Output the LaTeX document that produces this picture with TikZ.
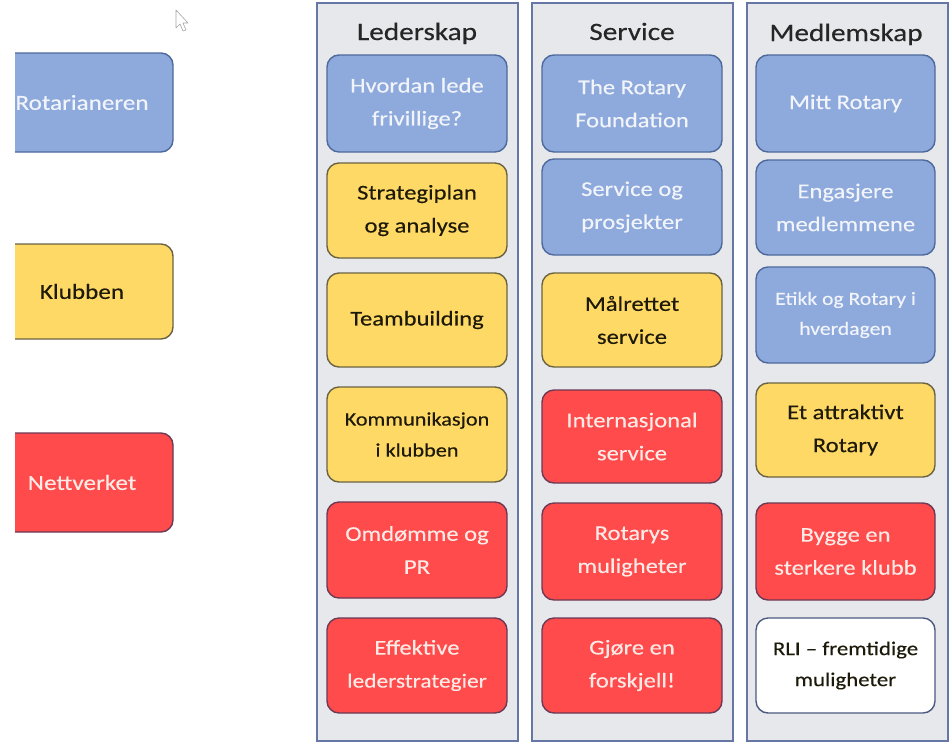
\documentclass[tikz,border=0pt]{standalone}
\usepackage{fontspec}
\setmainfont{Carlito}[FakeStretch=1.17,FakeBold=0.3]
\definecolor{bfill}{HTML}{8EA9DB}
\definecolor{bdraw}{HTML}{4E6A9C}
\definecolor{btext}{HTML}{F1F4FA}
\definecolor{yfill}{HTML}{FFD966}
\definecolor{ydraw}{HTML}{6A6343}
\definecolor{ytext}{HTML}{1E1A0A}
\definecolor{rfill}{HTML}{FF4B4B}
\definecolor{rdraw}{HTML}{6B3A55}
\definecolor{rtext}{HTML}{FBEAE6}
\definecolor{wdraw}{HTML}{4A5A80}
\definecolor{colfill}{HTML}{E7E8EC}
\definecolor{coldraw}{HTML}{6677A6}
\begin{document}
\begin{tikzpicture}[x=1pt,y=-1pt,
  cell/.style={rounded corners=12pt, line width=1.4pt, inner sep=0pt, align=center,
    minimum width=180pt, minimum height=95pt, font=\fontsize{21}{33}\selectfont},
  bluecell/.style={cell, fill=bfill, draw=bdraw, text=btext},
  yelcell/.style={cell, fill=yfill, draw=ydraw, text=ytext},
  redcell/.style={cell, fill=rfill, draw=rdraw, text=rtext},
  whitecell/.style={cell, fill=white, draw=wdraw, text=ytext},
  column/.style={fill=colfill, draw=coldraw, line width=1.3pt, inner sep=0pt,
    minimum width=201pt, minimum height=738pt},
  coltitle/.style={font=\fontsize{25}{28}\selectfont, text=black!85, inner sep=0pt, anchor=base},
  sidecell/.style={rounded corners=12pt, line width=1.4pt, inner sep=0pt, align=center,
    minimum width=182pt, font=\fontsize{21.5}{25}\selectfont}
]
\useasboundingbox (0,0) rectangle (952,744);
\fill[white] (0,0) rectangle (952,744);

% cursor
\draw[gray!70, line width=0.6pt, line join=round] (176,10) -- (176,28) -- (180,24) -- (183,31) -- (186,30) -- (183,23) -- (188,23) -- cycle;

% left legend boxes (cut by the left margin)
\begin{scope}
\clip (15,0) rectangle (300,744);
\node[sidecell, fill=bfill, draw=bdraw, text=btext, minimum height=99pt] (rot) at (82,102.5) {Rotarianeren};
\node[sidecell, fill=yfill, draw=ydraw, text=ytext, minimum height=95pt] (klu) at (82,291.5) {Klubben};
\node[sidecell, fill=rfill, draw=rdraw, text=rtext, minimum height=99pt] (net) at (82,482.5) {Nettverket};
\end{scope}

% columns
\node[column] (colL) at (417.5,372) {};
\node[column] (colS) at (632.5,372) {};
\node[column] (colM) at (847.5,372) {};

\node[coltitle] (tL) at (417,40) {Lederskap};
\node[coltitle] (tS) at (632,40) {Service};
\node[coltitle] (tM) at (846,41) {Medlemskap};

% Lederskap
\node[bluecell, minimum height=97pt] (L1) at (417,103.5) {Hvordan lede\\frivillige?};
\node[yelcell] (L2) at (417,210.5) {Strategiplan\\og analyse};
\node[yelcell, minimum height=94pt] (L3) at (417,320) {Teambuilding};
\node[yelcell, font=\fontsize{19}{31}\selectfont] (L4) at (417,434.5) {Kommunikasjon\\i klubben};
\node[redcell, minimum height=96pt] (L5) at (417,550) {Omdømme og\\PR};
\node[redcell] (L6) at (417,665.5) {Effektive\\{\fontsize{20}{33}\selectfont lederstrategier}};

% Service
\node[bluecell, minimum height=97pt] (S1) at (632,103.5) {The Rotary\\Foundation};
\node[bluecell, minimum height=96pt] (S2) at (632,207) {Service og\\prosjekter};
\node[yelcell, minimum height=94pt] (S3) at (632,320) {Målrettet\\service};
\node[redcell, minimum height=93pt] (S4) at (632,436.5) {Internasjonal\\service};
\node[redcell, minimum height=97pt] (S5) at (632,551.5) {Rotarys\\muligheter};
\node[redcell] (S6) at (632,665.5) {Gjøre en\\forskjell!};

% Medlemskap
\node[bluecell, minimum height=97pt, minimum width=179pt] (M1) at (845.5,103.5) {Mitt Rotary};
\node[bluecell, minimum width=179pt] (M2) at (845.5,207.5) {Engasjere\\medlemmene};
\node[bluecell, minimum height=96pt, minimum width=179pt, font=\fontsize{18.5}{30}\selectfont] (M3) at (845.5,315) {Etikk og Rotary i\\hverdagen};
\node[yelcell, minimum height=94pt, minimum width=179pt] (M4) at (845.5,430) {Et attraktivt\\Rotary};
\node[redcell, minimum height=97pt, minimum width=179pt] (M5) at (845.5,551.5) {Bygge en\\sterkere klubb};
\node[whitecell, minimum width=179pt, font=\fontsize{19.5}{31}\selectfont] (M6) at (845.5,665.5) {RLI – fremtidige\\muligheter};
\end{tikzpicture}
\end{document}
